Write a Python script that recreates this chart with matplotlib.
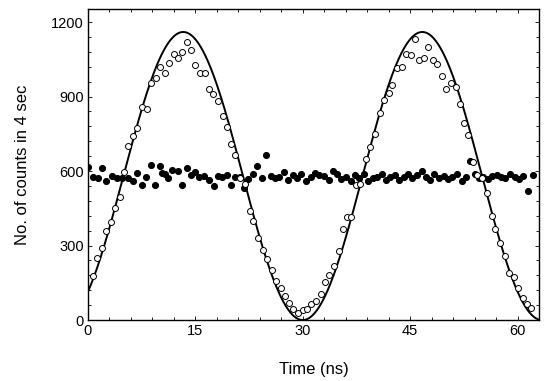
import matplotlib
matplotlib.use("Agg")
import matplotlib.pyplot as plt
import numpy as np
from matplotlib.ticker import MultipleLocator

# open circles: counts with interference (time in ns, counts)
OPEN_T = [0.65, 1.2, 1.9, 2.5, 3.2, 3.76, 4.46, 5.05, 5.6, 6.3, 6.9, 7.5, 8.2,
          8.8, 9.5, 10.0, 10.7, 11.3, 12.0, 12.6, 13.2, 13.8, 14.4, 15.0, 15.7,
          16.3, 16.9, 17.5, 18.1, 18.8, 19.4, 20.0, 20.6, 21.3, 21.9, 22.6,
          23.1, 23.8, 24.4, 25.0, 25.7, 26.3, 26.9, 27.5, 28.1, 28.7, 29.4,
          30.0, 30.6, 31.2, 31.9, 32.5, 33.1, 33.7, 34.3, 35.0, 35.6, 36.2,
          36.8, 37.4, 38.0, 38.8, 39.4, 40.1, 40.8, 41.4, 42.0, 42.5, 43.1,
          43.8, 44.4, 45.1, 45.7, 46.2, 46.9, 47.5, 48.2, 48.8, 49.4, 50.0,
          50.7, 51.4, 51.9, 52.5, 53.1, 53.8, 54.4, 55.1, 55.7, 56.4, 56.9,
          57.5, 58.2, 58.8, 59.5, 60.1, 60.7, 61.3, 61.9]
OPEN_Y = [177, 248, 291, 358, 396, 452, 494, 595, 701, 741, 772, 859, 848,
          953, 973, 1018, 993, 1036, 1071, 1056, 1078, 1121, 1087, 1027, 996,
          996, 929, 910, 883, 823, 779, 709, 665, 571, 548, 440,
          400, 332, 282, 244, 201, 158, 130, 97, 70, 43, 30,
          40, 43, 63, 78, 103, 152, 181, 219, 278, 365, 414,
          416, 544, 548, 647, 698, 748, 835, 886, 913, 946, 1013,
          1017, 1071, 1067, 1130, 1047, 1054, 1101, 1047, 1031, 983, 929,
          956, 937, 870, 795, 745, 638, 584, 571, 513, 419, 366,
          309, 259, 190, 175, 128, 87, 64, 50]

# filled circles: counts without interference
FILL_T = [0.05, 0.7, 1.4, 1.9, 2.5, 3.3, 4.0, 4.7, 5.6, 6.3, 6.8, 7.5, 8.1,
          8.8, 9.4, 10.0, 10.4, 10.7, 11.2, 11.8, 12.6, 13.2, 13.8, 14.4,
          15.0, 15.5, 16.2, 16.9, 17.6, 18.1, 18.7, 19.4, 20.0, 20.6, 21.2,
          21.8, 22.4, 23.0, 23.6, 24.3, 24.9, 25.5, 26.1, 26.7, 27.4, 28.0,
          28.6, 29.2, 29.8, 30.5, 31.1, 31.7, 32.3, 33.0, 33.6, 34.2, 34.8,
          35.4, 36.0, 36.7, 37.3, 37.9, 38.5, 39.1, 39.8, 40.4, 41.0, 41.6,
          42.2, 42.9, 43.5, 44.1, 44.7, 45.3, 46.0, 46.6, 47.2, 47.8, 48.4,
          49.1, 49.7, 50.3, 50.9, 51.5, 52.2, 52.8, 53.4, 54.0, 54.6, 55.2,
          55.9, 56.5, 57.1, 57.7, 58.3, 59.0, 59.6, 60.2, 60.8, 61.5, 62.1]
FILL_Y = [617, 575, 570, 611, 561, 580, 570, 570, 570, 561, 592, 544, 575,
          624, 544, 620, 592, 590, 570, 604, 600, 544, 611, 583,
          597, 575, 580, 564, 540, 580, 575, 583, 544, 575, 578,
          530, 568, 590, 620, 572, 664, 580, 570, 575, 598, 565,
          585, 570, 590, 560, 575, 593, 583, 580, 565, 600, 590,
          567, 575, 560, 583, 572, 587, 560, 570, 575, 590, 565,
          578, 585, 563, 575, 590, 572, 583, 600, 575, 565, 590,
          570, 580, 567, 575, 590, 560, 578, 640, 590, 572, 575,
          568, 580, 583, 575, 570, 587, 575, 568, 580, 520, 585]

# fitted cosine
FIT_MEAN = 580
FIT_AMP = 580
FIT_PERIOD = 33.4
FIT_PEAK = 13.3

fig = plt.figure(figsize=(5.5, 3.81), dpi=100)
ax = fig.add_axes([0.16, 0.16, 0.82, 0.816])

t_fit = np.linspace(0, 63, 600)
ax.plot(t_fit, FIT_MEAN + FIT_AMP * np.cos(2 * np.pi * (t_fit - FIT_PEAK) / FIT_PERIOD),
        color="black", lw=1.4, zorder=2)
ax.plot(FILL_T, FILL_Y, "o", ms=4.3, mfc="black", mec="black", mew=0.8, zorder=3)
ax.plot(OPEN_T, OPEN_Y, "o", ms=4.3, mfc="white", mec="black", mew=0.7, zorder=4)

ax.set_xlim(0, 63)
ax.set_ylim(0, 1252)
ax.xaxis.set_major_locator(MultipleLocator(15))
ax.xaxis.set_minor_locator(MultipleLocator(3))
ax.yaxis.set_major_locator(MultipleLocator(300))
ax.yaxis.set_minor_locator(MultipleLocator(60))
ax.tick_params(which="both", direction="in", top=True, right=True,
               labelsize=10.5, length=3, width=0.6, pad=3)
ax.tick_params(which="minor", length=2)
for s in ax.spines.values():
    s.set_linewidth(1.0)

ax.set_xlabel("Time (ns)", fontsize=12, labelpad=17)
ax.set_ylabel("No. of counts in 4 sec", fontsize=12, labelpad=15)

for lbl in ax.get_xticklabels() + ax.get_yticklabels():
    lbl.set_family("Liberation Sans")
ax.xaxis.label.set_family("Liberation Sans")
ax.yaxis.label.set_family("Liberation Sans")

fig.savefig("out.png", dpi=100)
